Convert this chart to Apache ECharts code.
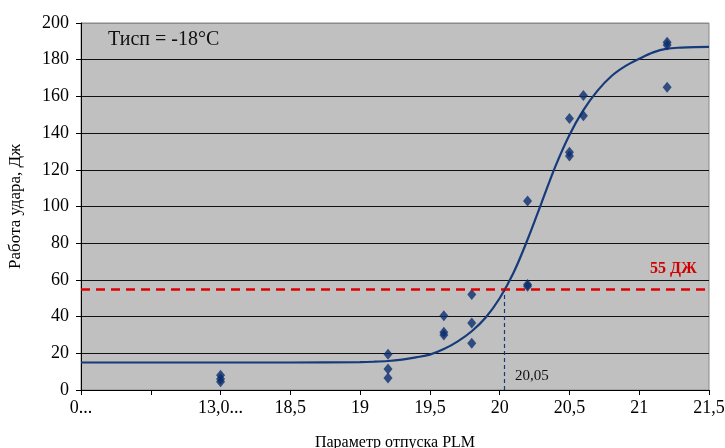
<!DOCTYPE html>
<html>
<head>
<meta charset="utf-8">
<script src="https://cdn.jsdelivr.net/npm/echarts@6/dist/echarts.min.js"></script>
<style>html,body{margin:0;padding:0;background:#fff}#c{width:725px;height:448px}</style>
</head>
<body>
<div id="c"></div>
<script>
// Broken x axis: the first two labelled positions stand for PLM 0 and 13,0
const tickLabels = ['0...', '', '13,0...', '18,5', '19', '19,5', '20', '20,5', '21', '21,5'];
const axisBreak = { 0: 17.0, 13.0: 18.0 };

// Measured points: PLM parameter and impact energy (J)
const pointsX = [13.0, 13.0, 13.0, 19.2, 19.2, 19.2, 19.6, 19.6, 19.6, 19.8, 19.8, 19.8, 20.2, 20.2, 20.2, 20.5, 20.5, 20.5, 20.6, 20.6, 21.2, 21.2, 21.2];
const pointsY = [8, 6, 4.5, 19.5, 11.5, 6.5, 40.5, 31.5, 30, 52, 36.5, 25.5, 103, 57.5, 56.5, 148, 129.5, 127.5, 160.5, 149.5, 189.5, 188, 165];

// Fitted curve
const curveX = [17.0, 18.0, 18.5, 19.0, 19.1, 19.2, 19.3, 19.4, 19.5, 19.6, 19.7, 19.8, 19.9, 20.0, 20.1, 20.2, 20.3, 20.4, 20.5, 20.6, 20.7, 20.8, 20.9, 21.0, 21.1, 21.2, 21.3, 21.4, 21.5];
const curveY = [15, 15, 15, 15.2, 15.4, 15.8, 16.6, 17.8, 19.3, 22.3, 26.5, 32, 39.5, 50, 64, 82, 102, 122, 139, 152.5, 163, 171, 176.5, 180.5, 184, 186, 186.6, 186.9, 187];

const limitValue = 55;
const limitLabel = '55 ДЖ';
const crossX = 20.03;
const crossLabel = '20,05';
const titleText = 'Тисп = -18°C';

const pos = v => (v in axisBreak ? axisBreak[v] : v);
const serif = '"Liberation Serif", "DejaVu Serif", serif';

const chart = echarts.init(document.getElementById('c'));
const gridColors = [];
for (let i = 0; i < 10; i++) gridColors.push('#111');
gridColors.push('#8a8a8a');

chart.setOption({
  animation: false,
  grid: { left: 81, right: 16, top: 23, bottom: 58, containLabel: false, outerBoundsMode: 'none', show: true, backgroundColor: '#c0c0c0', borderColor: '#8a8a8a', borderWidth: 1 },
  xAxis: {
    type: 'value', min: 17, max: 21.5, interval: 0.5,
    name: 'Параметр отпуска PLM', nameLocation: 'middle', nameGap: 45,
    nameTextStyle: { fontFamily: serif, fontSize: 16, color: '#000' },
    axisLine: { lineStyle: { color: '#000', width: 1 } },
    axisTick: { show: true, length: 5, lineStyle: { color: '#000' } },
    axisLabel: {
      fontFamily: serif, fontSize: 18, color: '#000', margin: 9,
      formatter: v => tickLabels[Math.round((v - 17) / 0.5)] ?? ''
    },
    splitLine: { show: false }
  },
  yAxis: {
    type: 'value', min: 0, max: 200, interval: 20,
    name: 'Работа удара, Дж', nameLocation: 'middle', nameGap: 57, nameRotate: 90,
    nameTextStyle: { fontFamily: serif, fontSize: 17, color: '#000' },
    axisLine: { show: true, lineStyle: { color: '#000', width: 1 } },
    axisTick: { show: true, length: 5, lineStyle: { color: '#000' } },
    axisLabel: { fontFamily: serif, fontSize: 18, color: '#000', margin: 12 },
    splitLine: { show: true, lineStyle: { color: gridColors, width: 1 } }
  },
  series: [
    {
      type: 'line', smooth: 0.35, showSymbol: false, silent: true,
      data: curveX.map((x, i) => [x, curveY[i]]),
      lineStyle: { color: '#173b7a', width: 2.2 },
      z: 3,
      markLine: {
        silent: true, symbol: 'none', label: { show: false },
        data: [
          [{ coord: [17, limitValue], lineStyle: { color: '#e00000', width: 2.5, type: [9, 6] } }, { coord: [21.5, limitValue] }],
          [{ coord: [crossX, 0], lineStyle: { color: '#173b7a', width: 1.2, type: [4, 3] } }, { coord: [crossX, limitValue] }]
        ]
      }
    },
    {
      type: 'scatter', symbol: 'diamond', symbolSize: [9, 11],
      data: pointsX.map((x, i) => [pos(x), pointsY[i]]),
      itemStyle: { color: '#0b2d6e' },
      z: 4
    }
  ],
  graphic: [
    { type: 'text', left: 108, top: 30, style: { text: titleText, fontFamily: serif, fontSize: 20, fill: '#111' } },
    { type: 'text', left: 650, top: 261, style: { text: limitLabel, fontFamily: serif, fontSize: 16, fontWeight: 'bold', fill: '#d00000' } },
    { type: 'text', left: 515, top: 369, style: { text: crossLabel, fontFamily: serif, fontSize: 15, fill: '#111' } }
  ]
});
</script>
</body>
</html>
